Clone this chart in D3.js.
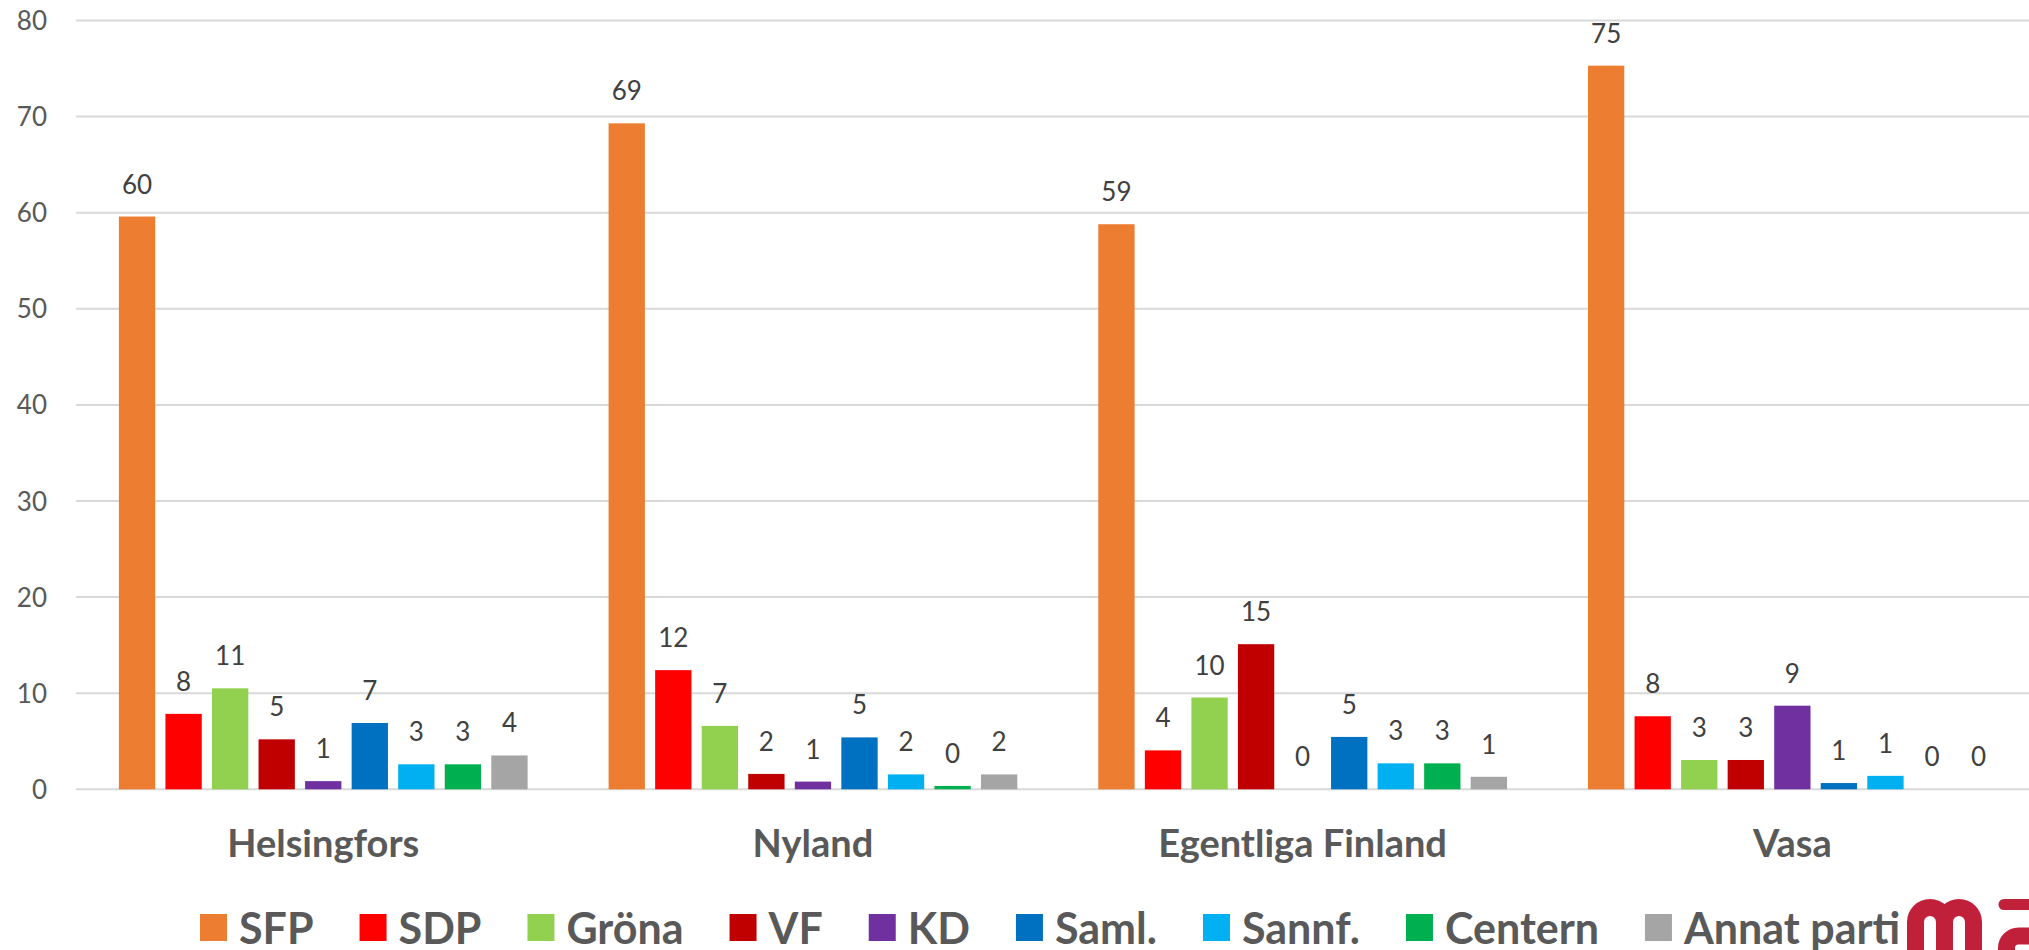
<!DOCTYPE html>
<html>
<head>
<meta charset="utf-8">
<script src="https://cdn.jsdelivr.net/npm/d3@7"></script>
<style>
  html, body { margin: 0; padding: 0; background: #fff; }
  svg { display: block; font-family: Lato, 'Open Sans', sans-serif; }
</style>
</head>
<body>
<div id="chart"></div>
<script>
const regions = ['Helsingfors', 'Nyland', 'Egentliga Finland', 'Vasa'];
const parties = ['SFP', 'SDP', 'Gröna', 'VF', 'KD', 'Saml.', 'Sannf.', 'Centern', 'Annat parti'];
const colors = ['#ED7D31', '#FF0000', '#92D050', '#C00000', '#7030A0', '#0070C0', '#00B0F0', '#00B050', '#A5A5A5'];

// share per region
const sfp = [59.6, 69.3, 58.8, 75.3];
const sdp = [7.85, 12.4, 4.05, 7.6];
const grona = [10.51, 6.6, 9.55, 3.05];
const vf = [5.2, 1.6, 15.1, 3.05];
const kd = [0.85, 0.8, 0, 8.7];
const saml = [6.9, 5.4, 5.45, 0.65];
const sannf = [2.6, 1.55, 2.7, 1.4];
const centern = [2.6, 0.35, 2.7, 0];
const annat = [3.52, 1.55, 1.3, 0];

const yTicks = [0, 10, 20, 30, 40, 50, 60, 70, 80];

const seriesValues = [sfp, sdp, grona, vf, kd, saml, sannf, centern, annat];
const data = regions.map((r, i) => ({
  region: r,
  values: parties.map((p, j) => ({ party: p, value: seriesValues[j][i], color: colors[j] }))
}));

const width = 2029;
const height = 950;

const svg = d3
  .select('#chart')
  .append('svg')
  .attr('width', width)
  .attr('height', height);

const x0 = d3.scaleBand().domain(regions).range([78.4, 2037.2]);
const x1 = d3
  .scaleBand()
  .domain(parties)
  .range([0, x0.bandwidth()])
  .paddingInner(0.22)
  .paddingOuter(0.87);
const y = d3.scaleLinear().domain([0, 80]).range([789.3, 20.5]);

// gridlines + y labels
svg
  .append('g')
  .selectAll('line')
  .data(yTicks)
  .enter()
  .append('line')
  .attr('x1', 76)
  .attr('x2', width)
  .attr('y1', (d) => y(d))
  .attr('y2', (d) => y(d))
  .style('stroke', '#d9d9d9')
  .style('stroke-width', 2);

svg
  .append('g')
  .selectAll('text')
  .data(yTicks)
  .enter()
  .append('text')
  .attr('x', 47)
  .attr('y', (d) => y(d) + 9.5)
  .style('text-anchor', 'end')
  .style('font-size', '26px')
  .style('fill', '#595959')
  .text((d) => d);

const groups = svg
  .append('g')
  .selectAll('g')
  .data(data)
  .enter()
  .append('g')
  .attr('transform', (d) => 'translate(' + x0(d.region) + ',0)');

groups
  .selectAll('rect')
  .data((d) => d.values)
  .enter()
  .append('rect')
  .attr('x', (d) => x1(d.party))
  .attr('y', (d) => y(d.value))
  .attr('width', x1.bandwidth())
  .attr('height', (d) => y(0) - y(d.value))
  .style('fill', (d) => d.color);

groups
  .selectAll('text')
  .data((d) => d.values)
  .enter()
  .append('text')
  .attr('x', (d) => x1(d.party) + x1.bandwidth() / 2)
  .attr('y', (d) => y(d.value) - 23)
  .style('text-anchor', 'middle')
  .style('font-size', '26px')
  .style('fill', '#404040')
  .text((d) => Math.round(d.value));

// category labels
svg
  .append('g')
  .selectAll('text')
  .data(regions)
  .enter()
  .append('text')
  .attr('x', (d) => x0(d) + x0.bandwidth() / 2)
  .attr('y', 857.3)
  .style('text-anchor', 'middle')
  .style('font-size', '38px')
  .style('font-weight', 'bold')
  .style('fill', '#595959')
  .text((d) => d);

// legend
const legend = svg.append('g').attr('class', 'legend');
let lx = 200;
parties.forEach((p, i) => {
  legend
    .append('rect')
    .attr('x', lx)
    .attr('y', 914)
    .attr('width', 27)
    .attr('height', 27)
    .style('fill', colors[i]);
  const t = legend
    .append('text')
    .attr('x', lx + 39)
    .attr('y', 944)
    .style('font-size', '43px')
    .style('font-weight', 'bold')
    .style('fill', '#595959')
    .text(p);
  lx += 39 + t.node().getComputedTextLength() + 46;
});

// logo, cut by the right edge
const logo = svg
  .append('g')
  .style('fill', 'none')
  .style('stroke', '#C1203B')
  .style('stroke-width', 17);
logo
  .append('path')
  .attr('d', 'M1915.5,960 V922 A14.5,14.5 0 0 1 1944.5,922 V960 M1944.5,922 A14.5,14.5 0 0 1 1973.5,922 V960');
logo
  .append('path')
  .attr('d', 'M2004,904.5 H2045')
  .style('stroke-width', 11)
  .style('stroke-linecap', 'round');
logo
  .append('path')
  .attr('d', 'M2006.5,960 V948 A12,12 0 0 1 2018.5,936 H2045');
</script>
</body>
</html>
